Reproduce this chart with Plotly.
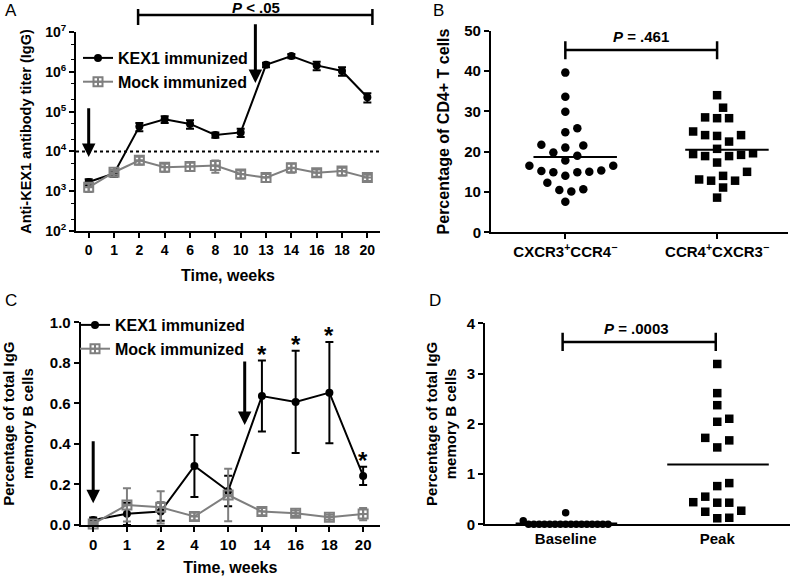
import numpy as np
import plotly.graph_objects as go

FONT = "Liberation Sans"

# ---------------- Panel A data ----------------
weeks_a = ["0", "1", "2", "4", "6", "8", "10", "13", "14", "16", "18", "20"]
kex1_titer = [1.7e3, 2.8e3, 4.2e4, 6.4e4, 4.9e4, 2.6e4, 3.0e4, 1.5e6, 2.5e6, 1.45e6, 1.05e6, 2.3e5]
kex1_titer_err = [3e2, 5e2, 1.0e4, 1.2e4, 1.2e4, 4e3, 7e3, 2e5, 3e5, 3.5e5, 2.5e5, 6e4]
mock_titer = [1.25e3, 3.0e3, 6.0e3, 4.0e3, 4.2e3, 4.4e3, 2.7e3, 2.2e3, 3.9e3, 2.9e3, 3.2e3, 2.2e3]
mock_titer_err = [3e2, 4e2, 1.3e3, 9e2, 1e3, 1.5e3, 6e2, 5e2, 1e3, 6e2, 7e2, 4e2]
titer_cutoff = 1e4
titer_tickvals = [1e2, 1e3, 1e4, 1e5, 1e6, 1e7]
titer_ticktext = ["10<sup>2</sup>", "10<sup>3</sup>", "10<sup>4</sup>",
                  "10<sup>5</sup>", "10<sup>6</sup>", "10<sup>7</sup>"]

# ---------------- Panel B data ----------------
b_groups = ["CXCR3<sup>+</sup>CCR4<sup>−</sup>", "CCR4<sup>+</sup>CXCR3<sup>−</sup>"]
cxcr3_pct = [39.6, 33.6, 29.9, 25.8, 24.8, 21.7, 21.0, 21.5, 19.8, 19.0, 17.8, 16.5,
             16.5, 15.2, 14.9, 14.9, 15.0, 15.3, 14.0, 12.3, 10.5, 10.1, 10.7, 7.6]
ccr4_pct = [34.0, 30.9, 28.3, 28.3, 28.5, 24.1, 23.9, 24.1, 25.0, 22.5, 20.7, 19.4,
            18.9, 18.9, 19.2, 19.6, 17.3, 14.0, 12.8, 12.8, 13.1, 15.0, 11.1, 8.6]

# ---------------- Panel C data ----------------
weeks_c = ["0", "1", "2", "4", "10", "14", "16", "18", "20"]
kex1_memb = [0.025, 0.055, 0.066, 0.291, 0.168, 0.636, 0.607, 0.653, 0.242]
kex1_memb_err = [0.012, 0.055, 0.045, 0.153, 0.075, 0.175, 0.252, 0.25, 0.045]
mock_memb = [0.005, 0.099, 0.087, 0.042, 0.148, 0.066, 0.058, 0.038, 0.054]
mock_memb_err = [0.01, 0.082, 0.08, 0.018, 0.13, 0.018, 0.014, 0.012, 0.03]
significant_c = ["14", "16", "18", "20"]

# ---------------- Panel D data ----------------
d_groups = ["Baseline", "Peak"]
baseline_pct = [0.23, 0.0, 0.0, 0.0, 0.0, 0.0, 0.0, 0.0, 0.0,
                0.0, 0.0, 0.0, 0.0, 0.0, 0.0, 0.0, 0.0, 0.07]
peak_pct = [3.19, 2.61, 2.37, 2.04, 2.10, 1.67, 1.72, 1.53, 0.76,
            0.82, 0.55, 0.43, 0.43, 0.44, 0.25, 0.27, 0.12, 0.13]

BLACK = "#000000"
GREY = "#7f7f7f"


def swarm(values, px_per_unit_y, px_per_cat, spacing):
    """Simple beeswarm: returns x offsets (category units) avoiding overlaps."""
    vals = np.asarray(values, dtype=float)
    order = np.argsort(vals, kind="stable")
    placed = []
    offs = np.zeros(len(vals))
    step = spacing / 2.0
    cands = [0.0]
    for j in range(1, 80):
        cands += [j * step, -j * step]
    for i in order:
        y = vals[i] * px_per_unit_y
        for c in cands:
            if all((c - px) ** 2 + (y - py) ** 2 >= (spacing * 0.97) ** 2 for px, py in placed):
                offs[i] = c / px_per_cat
                placed.append((c, y))
                break
    return offs


fig = go.Figure()

# ----- Panel A traces -----
fig.add_trace(go.Scatter(
    x=weeks_a, y=kex1_titer, name="KEX1 immunized", mode="lines+markers",
    line=dict(color=BLACK, width=2),
    marker=dict(symbol="circle", size=8, color=BLACK),
    error_y=dict(type="data", array=kex1_titer_err, color=BLACK, thickness=2, width=4),
    xaxis="x", yaxis="y", legend="legend", cliponaxis=False))
fig.add_trace(go.Scatter(
    x=weeks_a, y=mock_titer, name="Mock immunized", mode="lines+markers",
    line=dict(color=GREY, width=2),
    marker=dict(symbol="square-cross-open", size=9, color=GREY, line=dict(width=2, color=GREY)),
    error_y=dict(type="data", array=mock_titer_err, color=GREY, thickness=2, width=4),
    xaxis="x", yaxis="y", legend="legend", cliponaxis=False))

# ----- Panel B traces -----
b_pxy = 4.03
b_pxx = 152.0
offs1 = swarm(cxcr3_pct, b_pxy, b_pxx, 12)
offs2 = swarm(ccr4_pct, b_pxy, b_pxx, 12)
fig.add_trace(go.Scatter(
    x=0 + offs1, y=cxcr3_pct, mode="markers", showlegend=False,
    marker=dict(symbol="circle", size=8.5, color=BLACK),
    xaxis="x2", yaxis="y2", cliponaxis=False))
fig.add_trace(go.Scatter(
    x=1 + offs2, y=ccr4_pct, mode="markers", showlegend=False,
    marker=dict(symbol="square", size=8.5, color=BLACK),
    xaxis="x2", yaxis="y2", cliponaxis=False))

# ----- Panel C traces -----
fig.add_trace(go.Scatter(
    x=weeks_c, y=kex1_memb, name="KEX1 immunized", mode="lines+markers",
    line=dict(color=BLACK, width=2),
    marker=dict(symbol="circle", size=8, color=BLACK),
    error_y=dict(type="data", array=kex1_memb_err, color=BLACK, thickness=2, width=4),
    xaxis="x3", yaxis="y3", legend="legend2", cliponaxis=False))
fig.add_trace(go.Scatter(
    x=weeks_c, y=mock_memb, name="Mock immunized", mode="lines+markers",
    line=dict(color=GREY, width=2),
    marker=dict(symbol="square-cross-open", size=9, color=GREY, line=dict(width=2, color=GREY)),
    error_y=dict(type="data", array=mock_memb_err, color=GREY, thickness=2, width=4),
    xaxis="x3", yaxis="y3", legend="legend2", cliponaxis=False))

# ----- Panel D traces -----
d_pxy = 50.25
d_pxx = 151.6
offs_b = swarm(baseline_pct, d_pxy, d_pxx, 5.3)
offs_p = swarm(peak_pct, d_pxy, d_pxx, 12)
fig.add_trace(go.Scatter(
    x=0 + offs_b, y=baseline_pct, mode="markers", showlegend=False,
    marker=dict(symbol="circle", size=7.5, color=BLACK),
    xaxis="x4", yaxis="y4", cliponaxis=False))
fig.add_trace(go.Scatter(
    x=1 + offs_p, y=peak_pct, mode="markers", showlegend=False,
    marker=dict(symbol="square", size=8.5, color=BLACK),
    xaxis="x4", yaxis="y4", cliponaxis=False))

# ---------------- Axes ----------------
tick_a = dict(family=FONT, size=14, color=BLACK, weight="bold")
tick_f = dict(family=FONT, size=15, color=BLACK, weight="bold")
common = dict(showgrid=False, zeroline=False, showline=True, linecolor=BLACK, linewidth=2,
              ticks="outside", tickcolor=BLACK, tickwidth=2, ticklen=5, automargin=False)

fig.update_layout(
    xaxis=dict(domain=[0.0955, 0.4774], anchor="y", type="category",
               categoryorder="array", categoryarray=weeks_a, range=[-0.5, 11.5],
               tickfont=tick_a,
               title=dict(text="Time, weeks", font=dict(family=FONT, size=16, weight="bold"), standoff=13),
               **common),
    yaxis=dict(domain=[0.6003, 0.9446], anchor="x", type="log", range=[2, 7],
               tickvals=titer_tickvals, ticktext=titer_ticktext, tickfont=tick_a,
               minor=dict(ticks="outside", ticklen=3, tickwidth=1, tickcolor=BLACK, showgrid=False),
               title=dict(text="Anti-KEX1 antibody titer (IgG)",
                          font=dict(family=FONT, size=14.5, weight="bold"), standoff=10),
               **common),
    xaxis2=dict(domain=[0.6168, 0.9899], anchor="y2", range=[-0.49, 1.467],
                tickvals=[0, 1], ticktext=b_groups, tickfont=tick_f, **common),
    yaxis2=dict(domain=[0.5981, 0.9469], anchor="x2", range=[0, 50], dtick=10,
                tickfont=tick_f,
                title=dict(text="Percentage of CD4+ T cells",
                           font=dict(family=FONT, size=16, weight="bold"), standoff=11),
                **common),
    xaxis3=dict(domain=[0.1014, 0.4774], anchor="y3", type="category",
                categoryorder="array", categoryarray=weeks_c, range=[-0.37, 8.5],
                tickfont=tick_f,
                title=dict(text="Time, weeks", font=dict(family=FONT, size=16, weight="bold"), standoff=10),
                **common),
    yaxis3=dict(domain=[0.0917, 0.4424], anchor="x3", range=[0, 1], dtick=0.2, tickformat=".1f",
                tickfont=tick_f,
                title=dict(text="Percentage of total IgG<br>memory B cells",
                           font=dict(family=FONT, size=15, weight="bold"), standoff=14),
                **common),
    xaxis4=dict(domain=[0.6093, 0.9925], anchor="y4", range=[-0.532, 1.48],
                tickvals=[0, 1], ticktext=d_groups, tickfont=tick_f,
                showgrid=False, zeroline=False, showline=True, linecolor=BLACK, linewidth=2,
                ticks="", ticklen=5, automargin=False),
    yaxis4=dict(domain=[0.0929, 0.4407], anchor="x4", range=[0, 4], dtick=1,
                tickfont=tick_f,
                title=dict(text="Percentage of total IgG<br>memory B cells",
                           font=dict(family=FONT, size=15, weight="bold"), standoff=6),
                **common),
)

# ---------------- Shapes ----------------
shapes = []
shapes.append(dict(type="line", xref="x domain", yref="y", x0=0, x1=1, y0=titer_cutoff, y1=titer_cutoff,
                   line=dict(color=BLACK, width=2, dash="dot")))
ya = 1 - 15 / 578
shapes.append(dict(type="line", xref="x", yref="paper", x0=1.95, x1=11.2, y0=ya, y1=ya,
                   line=dict(color=BLACK, width=2.5)))
for xx in (1.95, 11.2):
    shapes.append(dict(type="line", xref="x", yref="paper", x0=xx, x1=xx,
                       y0=1 - 9 / 578, y1=1 - 25 / 578, line=dict(color=BLACK, width=2.5)))
shapes.append(dict(type="line", xref="x2", yref="y2", x0=0, x1=1, y0=45.2, y1=45.2,
                   line=dict(color=BLACK, width=2.5)))
for xx in (0, 1):
    shapes.append(dict(type="line", xref="x2", yref="y2", x0=xx, x1=xx, y0=42.9, y1=47.4,
                       line=dict(color=BLACK, width=2.5)))
for cat, vals in ((0, cxcr3_pct), (1, ccr4_pct)):
    m = float(np.mean(vals))
    shapes.append(dict(type="line", xref="x2", yref="y2", x0=cat - 0.21, x1=cat + 0.34, y0=m, y1=m,
                       line=dict(color=BLACK, width=2)))
shapes.append(dict(type="line", xref="x4", yref="y4", x0=-0.02, x1=0.99, y0=3.63, y1=3.63,
                   line=dict(color=BLACK, width=2.5)))
for xx in (-0.02, 0.99):
    shapes.append(dict(type="line", xref="x4", yref="y4", x0=xx, x1=xx, y0=3.45, y1=3.81,
                       line=dict(color=BLACK, width=2.5)))
for cat, vals in ((0, baseline_pct), (1, peak_pct)):
    m = float(np.mean(vals))
    shapes.append(dict(type="line", xref="x4", yref="y4", x0=cat - 0.33, x1=cat + 0.34, y0=m, y1=m,
                       line=dict(color=BLACK, width=2)))
fig.update_layout(shapes=shapes)

# ---------------- Annotations ----------------
ann = []
lab_font = dict(family=FONT, size=17, color=BLACK)
for txt, x, y in (("A", 3, 10), ("B", 431, 10), ("C", 3, 300), ("D", 427, 300)):
    ann.append(dict(text=txt, xref="paper", yref="paper", x=x / 796, y=1 - y / 578,
                    xanchor="left", yanchor="middle", showarrow=False, font=lab_font))

pfont = dict(family=FONT, size=15, color=BLACK, weight="bold")
ann.append(dict(text="<i>P</i> < .05", xref="x", yref="paper", x=6.59, y=1 - 8 / 578,
                showarrow=False, font=pfont, yanchor="middle"))
ann.append(dict(text="<i>P</i> = .461", xref="x2", yref="y2", x=0.5, y=48.6,
                showarrow=False, font=pfont, yanchor="middle"))
ann.append(dict(text="<i>P</i> = .0003", xref="x4", yref="y4", x=0.47, y=3.9,
                showarrow=False, font=pfont, yanchor="middle"))

arrow_style = dict(showarrow=True, arrowhead=2, arrowsize=0.9, arrowwidth=3, arrowcolor=BLACK,
                   standoff=0, startstandoff=0, text="")
ann.append(dict(xref="x", yref="y", x=0, y=3.86, axref="x", ayref="y", ax=0, ay=5.12, **arrow_style))
ann.append(dict(xref="x", yref="y", x=6.58, y=5.72, axref="x", ayref="y", ax=6.58, ay=7.23, **arrow_style))
ann.append(dict(xref="x3", yref="y3", x=0, y=0.107, axref="x3", ayref="y3", ax=0, ay=0.42, **arrow_style))
ann.append(dict(xref="x3", yref="y3", x=4.49, y=0.493, axref="x3", ayref="y3", ax=4.49, ay=0.814, **arrow_style))

for wk in significant_c:
    i = weeks_c.index(wk)
    ann.append(dict(text="*", xref="x3", yref="y3", x=i, y=kex1_memb[i] + kex1_memb_err[i] + 0.055,
                    showarrow=False, yanchor="middle", yshift=-5,
                    font=dict(family=FONT, size=24, color=BLACK, weight="bold")))
fig.update_layout(annotations=ann)

leg_font = dict(family=FONT, size=16, color=BLACK, weight="bold")
fig.update_layout(
    width=796, height=578, margin=dict(l=0, r=0, t=0, b=0, autoexpand=False),
    paper_bgcolor="white", plot_bgcolor="white",
    font=dict(family=FONT, color=BLACK),
    legend=dict(x=78 / 796, y=1 - 41 / 578, xanchor="left", yanchor="top", font=leg_font,
                bgcolor="rgba(0,0,0,0)", borderwidth=0, tracegroupgap=0, itemwidth=30),
    legend2=dict(x=75 / 796, y=1 - 308 / 578, xanchor="left", yanchor="top", font=leg_font,
                 bgcolor="rgba(0,0,0,0)", borderwidth=0, tracegroupgap=0, itemwidth=30),
)

fig.write_html("out.html", config={"displayModeBar": False},
               post_script="document.body.style.margin='0';document.body.style.overflow='hidden';")
